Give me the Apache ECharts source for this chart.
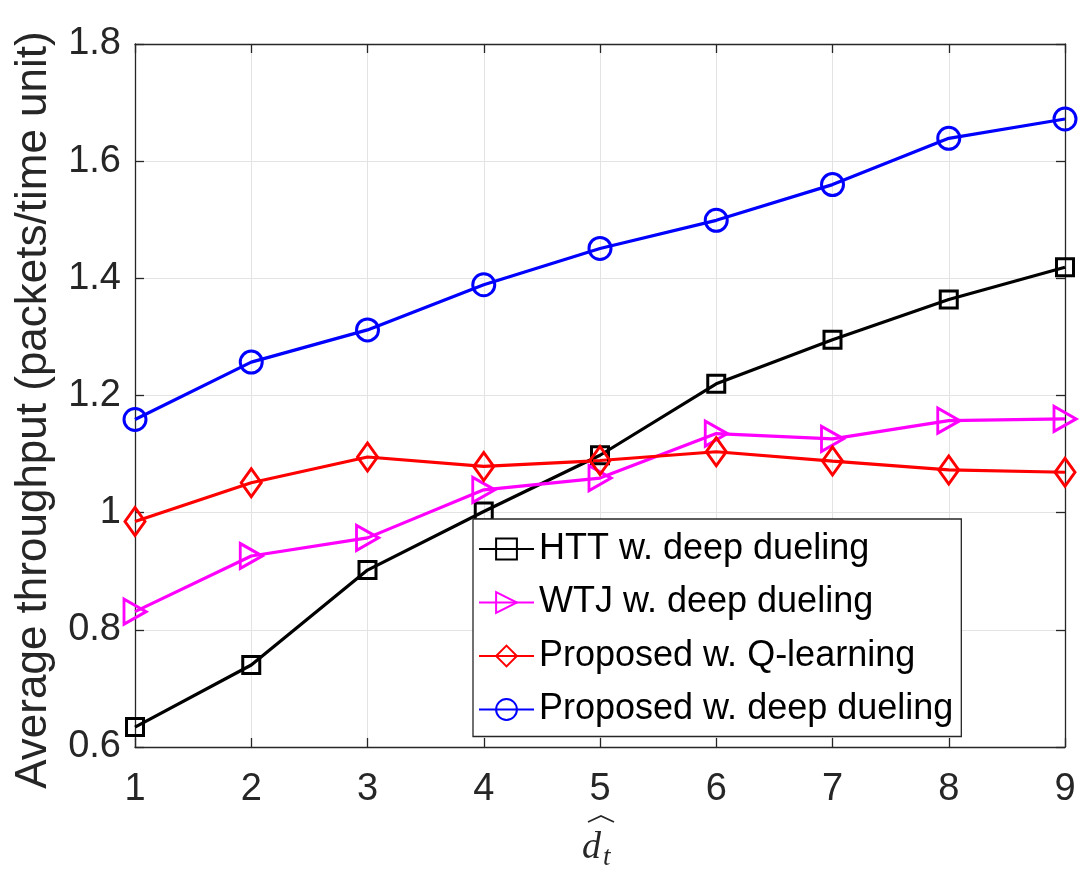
<!DOCTYPE html>
<html>
<head>
<meta charset="utf-8">
<script src="https://cdn.jsdelivr.net/npm/echarts@6/dist/echarts.min.js"></script>
<style>html,body{margin:0;padding:0;background:#fff}#c{width:1085px;height:873px}</style>
</head>
<body>
<div id="c"></div>
<script>
const xValues = [1, 2, 3, 4, 5, 6, 7, 8, 9];
const seriesNames = ['HTT w. deep dueling', 'WTJ w. deep dueling', 'Proposed w. Q-learning', 'Proposed w. deep dueling'];
const httDeep = [0.634, 0.740, 0.902, 1.002, 1.098, 1.220, 1.295, 1.364, 1.419];
const wtjDeep = [0.831, 0.926, 0.957, 1.039, 1.059, 1.135, 1.126, 1.157, 1.160];
const propQ = [0.985, 1.051, 1.095, 1.079, 1.089, 1.104, 1.088, 1.073, 1.069];
const propDeep = [1.159, 1.257, 1.312, 1.389, 1.451, 1.499, 1.560, 1.639, 1.672];
const yTicks = { min: 0.6, max: 1.8, interval: 0.2 };
const xTicks = { min: 1, max: 9, interval: 1 };
const yLabel = 'Average throughput (packets/time unit)';

const axisColor = '#262626';
const gridColor = '#e3e3e3';
const font = 'Liberation Sans, Arial, Helvetica, sans-serif';

function pairs(ys) { return xValues.map((x, i) => [x, ys[i]]); }

function mkSeries(name, ys, color, symbol, size) {
  return {
    name: name, type: 'line', data: pairs(ys),
    symbol: symbol, symbolSize: size, showSymbol: true,
    color: color,
    lineStyle: { color: color, width: 3.2 },
    itemStyle: { color: 'rgba(255,255,255,0)', borderColor: color, borderWidth: 3 },
    emphasis: { disabled: true },
    animation: false
  };
}

const chart = echarts.init(document.getElementById('c'), null, { renderer: 'canvas' });
const baseX = {
  type: 'value', min: xTicks.min, max: xTicks.max, interval: xTicks.interval,
  axisLine: { show: true, onZero: false, lineStyle: { color: axisColor, width: 1.3 } },
  axisTick: { show: true, inside: true, length: 9, lineStyle: { color: axisColor, width: 1.3 } },
};
const baseY = {
  type: 'value', min: yTicks.min, max: yTicks.max, interval: yTicks.interval,
  axisLine: { show: true, onZero: false, lineStyle: { color: axisColor, width: 1.3 } },
  axisTick: { show: true, inside: true, length: 9, lineStyle: { color: axisColor, width: 1.3 } },
};
chart.setOption({
  backgroundColor: '#fff',
  animation: false,
  grid: { left: 135, right: 20, top: 44, bottom: 126, containLabel: false },
  xAxis: [
    Object.assign({}, baseX, {
      position: 'bottom',
      axisLabel: { fontFamily: font, fontSize: 38, color: axisColor, margin: 24 },
      splitLine: { show: true, lineStyle: { color: gridColor, width: 1 } }
    }),
    Object.assign({}, baseX, {
      position: 'top',
      axisLabel: { show: false },
      splitLine: { show: false }
    })
  ],
  yAxis: [
    Object.assign({}, baseY, {
      position: 'left',
      axisLabel: { fontFamily: font, fontSize: 38, color: axisColor, margin: 14,
        padding: [6, 0, 0, 0],
        formatter: v => String(Math.round(v * 10) / 10) },
      splitLine: { show: true, lineStyle: { color: gridColor, width: 1 } }
    }),
    Object.assign({}, baseY, {
      position: 'right',
      axisLabel: { show: false },
      splitLine: { show: false }
    })
  ],
  legend: {
    orient: 'vertical', left: 473, top: 519,
    backgroundColor: '#fff', borderColor: axisColor, borderWidth: 1.3,
    padding: [12, 8, 9, 5],
    itemWidth: 55, itemHeight: 26, itemGap: 17.5,
    textStyle: { fontFamily: font, fontSize: 36, color: '#000', padding: [0, 0, 0, 0] },
    data: seriesNames,
    selectedMode: false
  },
  series: [
    mkSeries(seriesNames[0], httDeep, '#000000', 'rect', 17),
    mkSeries(seriesNames[1], wtjDeep, '#ff00ff', 'path://M0,0L2,1L0,2Z', [22, 25]),
    mkSeries(seriesNames[2], propQ, '#ff0000', 'diamond', [20, 28]),
    mkSeries(seriesNames[3], propDeep, '#0000ff', 'circle', 22)
  ],
  graphic: [
    {
      type: 'text', x: 34, y: 410, rotation: Math.PI / 2,
      style: { text: yLabel, fontFamily: font, fontSize: 44, fill: axisColor,
        textAlign: 'center', textVerticalAlign: 'middle' }
    },
    {
      type: 'text', x: 582, y: 848,
      style: { text: 'd', fontFamily: 'Liberation Serif, DejaVu Serif, serif', fontStyle: 'italic',
        fontSize: 38, fill: axisColor, textAlign: 'left', textVerticalAlign: 'middle' }
    },
    {
      type: 'text', x: 603, y: 858,
      style: { text: 't', fontFamily: 'Liberation Serif, DejaVu Serif, serif', fontStyle: 'italic',
        fontSize: 27, fill: axisColor, textAlign: 'left', textVerticalAlign: 'middle' }
    },
    {
      type: 'polyline',
      shape: { points: [[588, 822], [601, 816], [614, 822]] },
      style: { stroke: axisColor, lineWidth: 1.6, fill: null }
    }
  ]
});
</script>
</body>
</html>
